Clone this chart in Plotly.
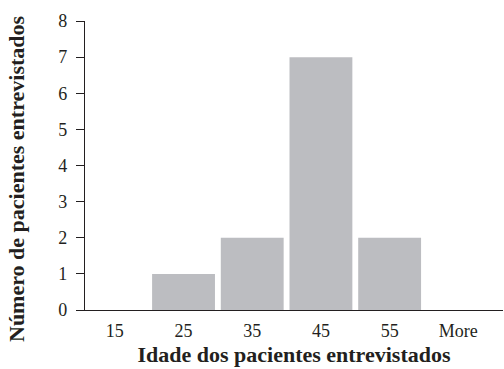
import plotly.graph_objects as go

categories = ["15", "25", "35", "45", "55", "More"]
counts = [0, 1, 2, 7, 2, 0]
y_ticks = [0, 1, 2, 3, 4, 5, 6, 7, 8]

FONT = "Liberation Serif"

fig = go.Figure(go.Bar(
    x=list(range(len(categories))), y=counts,
    marker=dict(color="#BCBDC1", line=dict(width=0)),
    hoverinfo="skip",
))

fig.update_layout(
    width=504, height=369,
    margin=dict(l=85, r=1, t=21, b=59),
    plot_bgcolor="white", paper_bgcolor="white",
    bargap=0.085,
    showlegend=False,
    font=dict(family=FONT, size=18, color="#231F20"),
    annotations=[dict(
        text="<b>Número de pacientes entrevistados</b>",
        textangle=-90, xref="paper", yref="paper",
        x=(17 - 85) / 418, y=(310 - 179) / 289,
        xanchor="center", yanchor="middle", showarrow=False,
        font=dict(size=22, family=FONT, color="#231F20"),
    )],
)
fig.update_xaxes(
    automargin=False,
    range=[-0.434, 5.65],
    tickvals=list(range(len(categories))), ticktext=categories,
    showline=True, linecolor="#231F20", linewidth=1.2,
    ticks="", showgrid=False, zeroline=False,
    tickfont=dict(size=18), ticklabelstandoff=4,
    title=dict(text="Idade dos pacientes entrevistados",
               font=dict(size=22, weight="bold"), standoff=6),
)
fig.update_yaxes(
    automargin=False,
    range=[0, 8], tickvals=y_ticks,
    showline=True, linecolor="#231F20", linewidth=1.2,
    ticks="outside", ticklen=8, tickcolor="#231F20", tickwidth=1,
    showgrid=False, zeroline=False,
    tickfont=dict(size=18), ticklabelstandoff=5,
)

fig.write_html(
    "out.html",
    config={"displayModeBar": False},
    post_script="document.body.style.margin='0';document.body.style.overflow='hidden';",
)
